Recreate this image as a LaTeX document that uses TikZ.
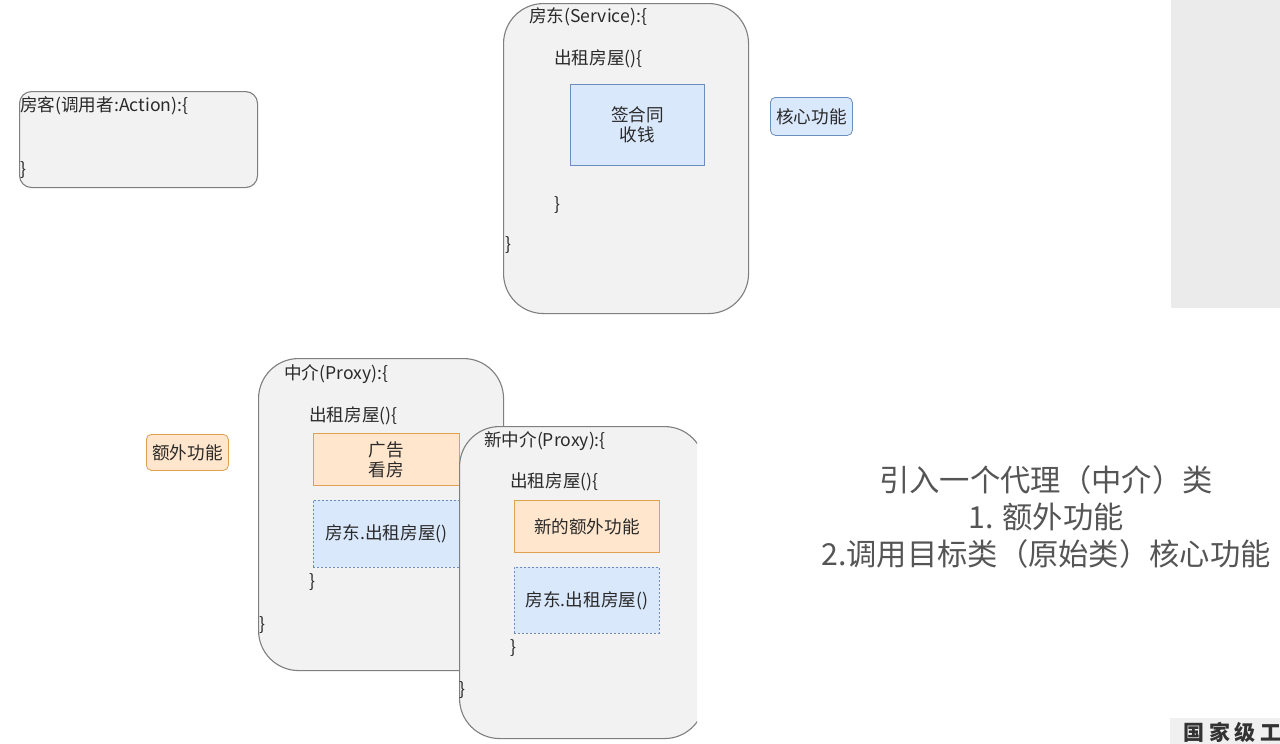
\documentclass[tikz,border=0pt]{standalone}
\usepackage{fontspec}
\setmainfont{Noto Sans CJK SC}
\usetikzlibrary{positioning}
\definecolor{boxgray}{HTML}{F2F2F2}
\definecolor{linegray}{HTML}{7F7F7F}
\definecolor{textdark}{HTML}{2A2A2A}
\definecolor{notegray}{HTML}{555555}
\definecolor{bluefill}{HTML}{DAE8FC}
\definecolor{blueline}{HTML}{6C8EBF}
\definecolor{orangefill}{HTML}{FFE6CC}
\definecolor{orangeline}{HTML}{E0A050}
\newcommand{\codefont}{\fontsize{17.6}{20}\selectfont}
\newcommand{\notefont}{\fontsize{30.3}{37}\selectfont}
\tikzset{main base/.style={text centered, inner sep=0pt, text=textdark}, }
\tikzset{class box/.style={rectangle, draw=linegray, fill=boxgray, line width=1.1pt,
    rounded corners=#1, anchor=north west, main base}, }
\tikzset{class box/.default=40pt}
\tikzset{code text/.style={anchor=west, inner sep=0pt, font=\codefont, text=textdark}, }
\tikzset{core node/.style={rectangle, draw=blueline, fill=bluefill, line width=0.8pt,
    anchor=north west, font=\codefont, align=center, main base}, }
\tikzset{extra node/.style={core node, draw=orangeline, fill=orangefill}, }
\tikzset{call node/.style={core node, dashed, dash pattern=on 2pt off 2pt}, }
\tikzset{tag node/.style={core node, rounded corners=5pt}, }
\tikzset{note line/.style={font=\notefont, text=notegray, inner sep=0pt, anchor=base}, }

\begin{document}
\begin{tikzpicture}[x=1pt, y=-1pt]
  \useasboundingbox[fill=white] (0,0) rectangle (1280,744);
  % screen leftovers
  \fill[gray!16] (1171,0) rectangle (1280,308);
  \fill[gray!12] (1170,718) rectangle (1280,744);
  \node[anchor=north west, inner sep=0pt, font=\bfseries\fontsize{21}{24}\selectfont, text=black!80] (mark) at (1183,722) {国 家 级 工};
  %
  % caller
  \node[class box=12pt, minimum width=238pt, minimum height=96pt] (tenant) at (19,91) {};
  \node[code text] (tenanthead) at (20,106) {房客(调用者:Action):\{};
  %
  % target class
  \node[class box, minimum width=245pt, minimum height=310pt] (landlord) at (503,3) {};
  \node[code text] (landlordhead) at (529,17) {房东(Service):\{};
  \node[code text] (landlordrent) at (554,59) {出租房屋()\{};
  \node[core node, minimum width=134pt, minimum height=81pt] (sign) at (570,84) {签合同\\收钱};
  \node[tag node, minimum width=82pt, minimum height=38pt] (core) at (770,97) {核心功能};
  %
  % proxy
  \node[class box, minimum width=245pt, minimum height=312pt] (agent) at (258,358) {};
  \node[code text] (agenthead) at (284,374) {中介(Proxy):\{};
  \node[code text] (agentrent) at (309,416) {出租房屋()\{};
  \node[extra node, minimum width=146pt, minimum height=52pt] (advert) at (313,433) {广告\\看房};
  \node[call node, minimum width=146pt, minimum height=67pt] (call1) at (313,500) {房东.出租房屋()};
  \node[tag node, draw=orangeline, fill=orangefill, minimum width=82pt, minimum height=36pt] (extra) at (146,434) {额外功能};
  %
  % new proxy, cut off on the right
  \begin{scope}
    \clip (0,0) rectangle (697,744);
    \node[class box, minimum width=245pt, minimum height=312pt] (newagent) at (459,426) {};
  \end{scope}
  \node[code text] (newagenthead) at (484,441) {新中介(Proxy):\{};
  \node[code text] (newagentrent) at (510,482) {出租房屋()\{};
  \node[extra node, minimum width=145pt, minimum height=52pt] (newextra) at (514,500) {新的额外功能};
  \node[call node, minimum width=145pt, minimum height=66pt] (call2) at (514,567) {房东.出租房屋()};
  %
  \foreach \n/\x/\y in {tenantend/20/170, landlordrentend/554/205, landlordend/505/245,
      agentrentend/309/582, agentend/259/625, newagentrentend/510/648, newagentend/459/690}
    \node[code text] (\n) at (\x,\y) {\}};
  %
  % note
  \node[note line] (note1) at (1046,491) {引入一个代理（中介）类};
  \node[note line] (note2) at (1046,528) {1. 额外功能};
  \node[note line] (note3) at (1046,565) {2.调用目标类（原始类）核心功能};
\end{tikzpicture}
\end{document}
